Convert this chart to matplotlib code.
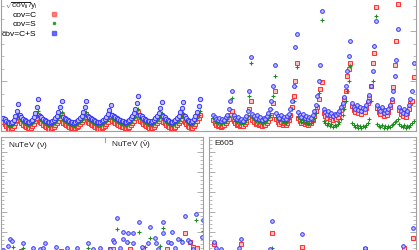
import matplotlib
matplotlib.use("Agg")
import matplotlib.pyplot as plt
import numpy as np
from matplotlib.lines import Line2D
from matplotlib.ticker import MultipleLocator

plt.rcParams.update({
    "font.family": "Liberation Sans",
    "mathtext.fontset": "custom",
    "mathtext.rm": "Liberation Sans",
    "mathtext.it": "Liberation Sans",
    "mathtext.bf": "Liberation Sans:bold",
})

W, H = 419, 250
GREY = "#a0a0a0"
RED, GREEN, BLUE = "#ff3030", "#1e8c1e", "#3535ff"
RED_FILL, BLUE_FILL = "#ffc0c0", "#c0c0ff"

# sqrt(cov_ii)/y_i in units of 0.1 %, one inner list per kinematic cycle
# ---- top left data set
TL_C = [
    [9, 7, 5, 3, 2, 2, 3, 5, 8, 11, 14],
    [10, 8, 6, 5, 4, 3, 3, 3, 5, 7, 10, 13, 16],
    [9, 8, 6, 5, 4, 3, 2, 2, 3, 4, 6, 8, 10, 13, 16],
    [8, 7, 6, 5, 4, 3, 3, 2, 3, 4, 5, 7, 9, 11, 14, 17],
    [9, 8, 7, 6, 5, 4, 3, 2, 2, 3, 4, 5, 7, 9, 12, 15],
    [10, 9, 8, 7, 6, 5, 4, 4, 3, 3, 3, 4, 6, 8, 10, 13, 16, 19],
    [10, 9, 7, 6, 5, 4, 3, 3, 3, 4, 6, 8, 10, 12, 15],
    [9, 8, 6, 5, 4, 3, 3, 3, 4, 6, 8, 10, 12, 15],
    [9, 7, 5, 4, 3, 3, 5, 7, 10, 13, 16],
]
TL_S = [
    [11, 10, 8, 6, 5, 5, 6, 8, 11, 14, 17],
    [13, 11, 9, 8, 7, 6, 6, 7, 8, 10, 13, 16, 20],
    [12, 11, 9, 8, 7, 6, 6, 6, 7, 8, 9, 11, 13, 16, 19],
    [11, 10, 9, 8, 7, 6, 6, 5, 6, 7, 8, 9, 11, 13, 16, 19],
    [12, 11, 10, 9, 8, 7, 6, 6, 6, 7, 8, 9, 10, 12, 15, 18],
    [13, 12, 11, 10, 9, 8, 7, 7, 6, 6, 7, 8, 9, 11, 13, 15, 18, 22],
    [13, 12, 10, 9, 8, 7, 7, 6, 7, 8, 9, 11, 13, 15, 18],
    [12, 11, 9, 8, 7, 6, 6, 7, 8, 9, 11, 13, 15, 18],
    [12, 10, 8, 7, 6, 7, 8, 10, 13, 16, 20],
]
TL_CS = [
    [13, 12, 10, 9, 8, 8, 9, 11, 15, 20, 27],
    [16, 14, 12, 11, 10, 9, 9, 10, 11, 14, 18, 24, 32],
    [15, 14, 12, 11, 10, 9, 9, 9, 10, 11, 13, 15, 19, 24, 30],
    [14, 13, 12, 11, 10, 9, 9, 8, 9, 10, 11, 13, 15, 19, 24, 30],
    [15, 14, 13, 12, 11, 10, 9, 9, 9, 10, 11, 12, 14, 17, 21, 26],
    [16, 15, 14, 13, 12, 11, 10, 10, 9, 9, 10, 11, 13, 15, 18, 22, 28, 35],
    [16, 15, 13, 12, 11, 10, 10, 9, 10, 11, 13, 15, 18, 23, 29],
    [15, 14, 12, 11, 10, 9, 9, 10, 11, 13, 15, 19, 23, 29],
    [15, 13, 11, 10, 9, 10, 12, 15, 19, 25, 32],
]

# ---- top right data set
TR_C = [
    [11, 8, 6, 5, 6, 4, 5, 6, 8, 10, 12, 16, 20],
    [10, 8, 6, 7, 5, 6, 5, 7, 9, 14, 22, 30],
    [11, 9, 7, 8, 6, 7, 5, 6, 6, 8, 10, 13, 16, 28, 40],
    [12, 9, 7, 9, 6, 8, 6, 8, 11, 16, 24, 35, 50, 68],
    [13, 10, 8, 10, 7, 9, 6, 8, 8, 11, 15, 20, 24, 32, 42, 49],
    [18, 15, 13, 16, 12, 14, 11, 13, 12, 14, 17, 21, 26, 32, 40, 55, 62, 68],
    [25, 21, 19, 23, 18, 21, 17, 20, 19, 23, 28, 34, 45, 68, 78, 124],
    [23, 19, 17, 21, 15, 18, 16, 19, 24, 30, 44, 66, 90, 127],
    [21, 17, 15, 19, 14, 18, 22, 28, 30, 54],
]
TR_S = [
    [13, 10, 9, 8, 10, 7, 9, 8, 10, 12, 15, 22, 33],
    [13, 10, 9, 11, 8, 9, 7, 9, 11, 15, 35, 68],
    [14, 12, 10, 12, 9, 10, 8, 9, 9, 11, 13, 16, 22, 35, 55],
    [14, 12, 10, 12, 9, 10, 8, 10, 12, 16, 22, 30, 45, 64],
    [14, 12, 9, 11, 8, 9, 7, 8, 8, 10, 13, 18, 25, 38, 50, 111],
    [10, 8, 6, 8, 5, 7, 4, 6, 5, 7, 9, 12, 16, 22, 30, 40, 50, 65],
    [8, 6, 4, 6, 3, 5, 3, 5, 4, 6, 8, 12, 30, 50, 85, 115],
    [7, 5, 4, 6, 3, 5, 3, 5, 4, 6, 7, 9, 10, 12],
    [7, 5, 4, 6, 3, 5, 4, 6, 8, 10],
]
TR_CS = [
    [16, 14, 12, 11, 13, 10, 12, 11, 14, 16, 22, 30, 40],
    [16, 13, 12, 14, 11, 12, 10, 13, 15, 20, 40, 74],
    [17, 15, 13, 16, 12, 14, 11, 13, 12, 15, 18, 22, 30, 45, 66],
    [18, 15, 13, 16, 12, 14, 12, 15, 17, 22, 30, 45, 84, 97],
    [19, 16, 14, 17, 13, 15, 12, 14, 13, 16, 20, 26, 35, 50, 66, 120],
    [22, 19, 17, 20, 16, 18, 15, 17, 16, 18, 20, 24, 28, 34, 45, 60, 75, 90],
    [28, 24, 22, 26, 21, 24, 20, 23, 22, 26, 30, 36, 45, 60, 85, 110],
    [26, 22, 20, 24, 18, 21, 19, 22, 26, 32, 40, 55, 71, 102],
    [24, 20, 18, 22, 17, 20, 26, 32, 40, 68],
]

# ---- NuTeV (nu: points 0-103, nubar: 104-202)
NU_C_X = [20, 60, 109, 112, 129, 142, 166, 184, 189, 192, 196]
NU_C_Y = [1, 1, 3, 3, 3, 4, 3, 19, 10, 5, 4]
NU_S_X = [12, 22, 39, 87, 116, 127, 138, 144, 149, 159, 162, 180, 195, 202]
NU_S_Y = [5, 4, 1, 4, 23, 10, 20, 5, 14, 6, 24, 12, 32, 21]
NU_CS_X = [2, 7, 9, 11, 22, 32, 39, 42, 44, 55, 66, 76, 87, 92, 99,
           109, 112, 113, 116, 119, 122, 122, 126, 127, 132, 132, 138, 141,
           147, 149, 154, 155, 157, 162, 162, 167, 170, 171, 174, 177, 181,
           184, 187, 189, 192, 195, 201, 202]
NU_CS_Y = [2, 6, 13, 11, 9, 4, 3, 4, 9, 5, 4, 4, 9, 3, 4,
           3, 12, 10, 34, 4, 20, 13, 10, 19, 19, 9, 30, 5,
           9, 25, 14, 9, 3, 19, 30, 10, 9, 20, 4, 13, 10,
           36, 12, 10, 3, 38, 15, 32]

# ---- E605
E605_C_X = [5, 32, 63, 93, 156, 195, 204]
E605_C_Y = [8, 8, 19, 5, 3, 4, 14]
E605_S_X = [7, 63]
E605_S_Y = [2, 4]
E605_CS_X = [5, 7, 12, 30, 32, 61, 63, 93, 156, 194, 204]
E605_CS_Y = [10, 4, 3, 4, 13, 3, 31, 18, 4, 6, 24]


def panel(fig, left, right, top, bottom):
    return fig.add_axes([left / W, 1 - bottom / H, (right - left) / W, (bottom - top) / H])


def style(ax, left=True, right=True, top=True, minor=12.5, major=50):
    for sp in ax.spines.values():
        sp.set_color(GREY)
        sp.set_linewidth(0.8)
    ax.spines["left"].set_visible(left)
    ax.spines["right"].set_visible(right)
    ax.spines["top"].set_visible(top)
    ax.set_xticks([])
    ax.yaxis.set_major_locator(MultipleLocator(major))
    ax.yaxis.set_minor_locator(MultipleLocator(minor))
    ax.tick_params(axis="y", which="both", direction="in", colors=GREY,
                   left=left, right=right, labelleft=False, labelright=False)
    ax.tick_params(axis="y", which="major", length=4, width=0.6)
    ax.tick_params(axis="y", which="minor", length=2, width=0.5)


def draw(ax, x_c, y_c, x_s, y_s, x_cs, y_cs, ms=2.6):
    ax.plot(x_c, y_c, ls="none", marker="s", ms=ms * 0.95, mfc=RED_FILL, mec=RED, mew=0.7)
    ax.plot(x_s, y_s, ls="none", marker="+", ms=ms * 1.15, mec=GREEN, mew=0.8)
    ax.plot(x_cs, y_cs, ls="none", marker="o", ms=ms, mfc=BLUE_FILL, mec=BLUE, mew=0.7)


def cycles(ax, c, s, cs, ms):
    c, s, cs = np.concatenate(c), np.concatenate(s), np.concatenate(cs)
    x = np.arange(len(c))
    draw(ax, x, c, x, s, x, cs, ms=ms)


fig = plt.figure(figsize=(W / 100, H / 100), dpi=100)

tl = panel(fig, 1, 207, -19, 131)
tr = panel(fig, 207, 416, -19, 131)
bl = panel(fig, 1, 203, 137, 252)
br = panel(fig, 209, 416, 137, 252)

cycles(tl, TL_C, TL_S, TL_CS, ms=3.1)
tl.set_xlim(-1.3, 132.5)
tl.set_ylim(0, 150)
style(tl, right=True, top=False)
tl.spines["right"].set_bounds(0, 4)
tl.tick_params(axis="y", which="both", right=False)

cycles(tr, TR_C, TR_S, TR_CS, ms=2.7)
tr.set_xlim(-3.8, 128.5)
tr.set_ylim(0, 150)
style(tr, left=False, top=False)

draw(bl, NU_C_X, NU_C_Y, NU_S_X, NU_S_Y, NU_CS_X, NU_CS_Y)
bl.set_xlim(0, 202)
bl.set_ylim(0, 115)
style(bl, minor=4, major=20)
bl.axvline(104, ymin=1 - 5 / 115, ymax=1, color=GREY, lw=0.8)

draw(br, E605_C_X, E605_C_Y, E605_S_X, E605_S_Y, E605_CS_X, E605_CS_Y)
br.set_xlim(0, 207)
br.set_ylim(0, 115)
style(br, minor=4, major=20)

txt = dict(va="top", ha="left", fontsize=6, color="#222222")
bl.text(7 / 202, 1 - 3 / 115, r"NuTeV ($\nu$)", transform=bl.transAxes, **txt)
bl.text(110 / 202, 1 - 3 / 115, r"NuTeV ($\bar{\nu}$)", transform=bl.transAxes, **txt)
br.text(5 / 207, 1 - 3 / 115, "E605", transform=br.transAxes, **txt)

# legend: title as separate text, entries right-aligned with marker after label
fig.text(5 / W, 1 - 8 / H, r"$\sqrt{\mathrm{cov}_{ii}}/y_i$", fontsize=6,
         ha="left", va="baseline", color="#222222")
handles = [
    Line2D([], [], ls="none", marker="s", ms=2.2, color=RED, alpha=0.6, label="cov=C"),
    Line2D([], [], ls="none", marker="s", ms=2.0, color=GREEN, alpha=0.8, label="cov=S"),
    Line2D([], [], ls="none", marker="s", ms=2.2, color=BLUE, alpha=0.7, label="cov=C+S"),
]
tl.legend(handles=handles, loc="upper left", bbox_to_anchor=(2 / W, 1 - 11 / H),
          bbox_transform=fig.transFigure, frameon=False, markerfirst=False,
          fontsize=6, handlelength=0.6, handletextpad=1.8, labelspacing=0.18,
          borderpad=0, borderaxespad=0)

fig.savefig("out.png", dpi=100)
